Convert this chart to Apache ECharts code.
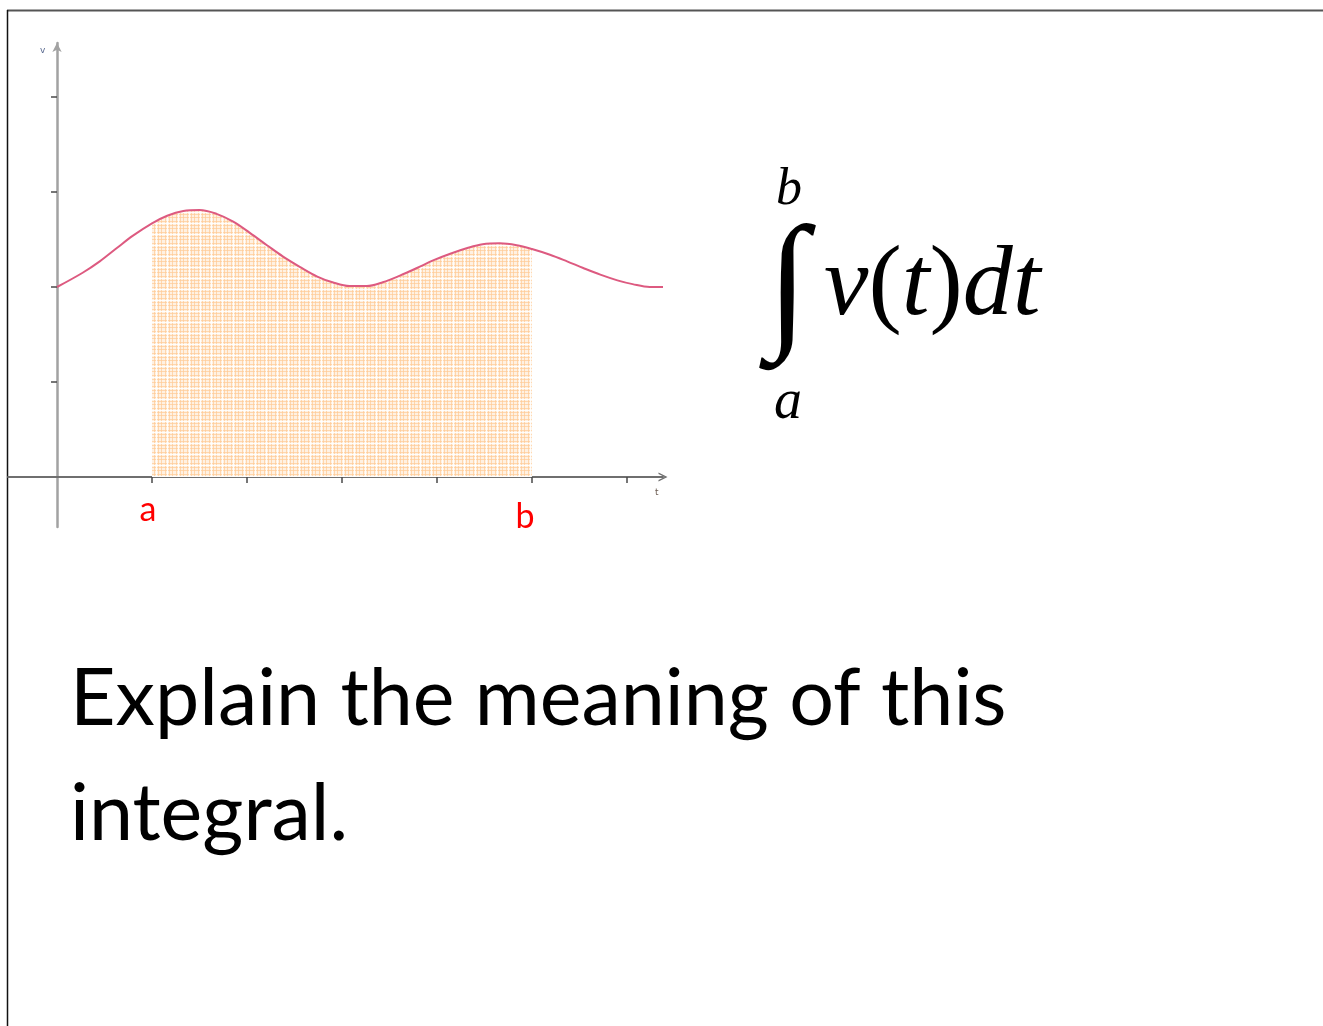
<!DOCTYPE html>
<html>
<head>
<meta charset="utf-8">
<title>Definite integral of velocity</title>
<script src="https://cdn.jsdelivr.net/npm/echarts@6/dist/echarts.min.js"></script>
<style>
  html, body { margin: 0; padding: 0; background: #ffffff; }
  #chart { width: 1323px; height: 1026px; }
</style>
</head>
<body>
<div id="chart"></div>
<script>
// velocity curve v(t), sampled along t
const curveT = [0, 0.27, 0.45, 0.63, 0.8, 1.0, 1.16, 1.33, 1.5, 1.68, 1.85, 2.03, 2.21, 2.38, 2.56, 2.74, 2.9, 3.08, 3.26, 3.43, 3.61, 3.79, 3.96, 4.14, 4.32, 4.48, 4.66, 4.84, 5.0, 5.19, 5.37, 5.54, 5.72, 5.9, 6.06, 6.24, 6.38];
const curveV = [2.0, 2.15, 2.27, 2.41, 2.54, 2.67, 2.75, 2.8, 2.81, 2.77, 2.69, 2.57, 2.44, 2.32, 2.21, 2.11, 2.05, 2.01, 2.01, 2.05, 2.12, 2.2, 2.28, 2.35, 2.41, 2.45, 2.46, 2.44, 2.4, 2.34, 2.27, 2.2, 2.13, 2.07, 2.03, 2.0, 2.0];

// integration limits and their labels
const limitValues = [1, 5];
const limitNames = ['a', 'b'];

// tick positions on both axes
const tTicks = [1, 2, 3, 4, 5, 6];
const vTicks = [1, 2, 3, 4];

const captionLines = ['Explain the meaning of this', 'integral.'];

const curve = curveT.map((t, i) => [t, curveV[i]]);
const shaded = curve.filter(p => p[0] >= limitValues[0] && p[0] <= limitValues[1]);

// light orange cross-hatch used under the curve
function makeHatch() {
  const c = document.createElement('canvas');
  c.width = 11; c.height = 11;
  const g = c.getContext('2d');
  g.fillStyle = '#fff1e2';
  g.fillRect(0, 0, 11, 11);
  g.fillStyle = 'rgba(255, 203, 150, 0.7)';
  [0, 4, 7].forEach(x => g.fillRect(x, 0, 1, 11));
  [1, 5, 8].forEach(y => g.fillRect(0, y, 11, 1));
  g.fillStyle = 'rgba(255, 255, 255, 0.9)';
  g.fillRect(2, 0, 1, 11);
  g.fillRect(0, 3, 11, 1);
  return c;
}

const chevron = 'path://M0,10 L5,0 L10,10 L8.4,10 L5,3.2 L1.6,10 Z';

function axisPair(ticks, min, max, lineColor, lineWidth, arrow, arrowSize) {
  const base = {
    type: 'value', min: min, max: max,
    splitLine: { show: false },
    axisLabel: { show: false }
  };
  return [
    Object.assign({}, base, {
      axisLine: { show: true, onZero: true, onZeroAxisIndex: 0,
        symbol: ['none', arrow], symbolSize: arrowSize,
        lineStyle: { color: lineColor, width: lineWidth } },
      axisTick: { show: true, customValues: ticks, length: 6, inside: false,
        lineStyle: { color: '#4a4a4a', width: 1.5 } }
    }),
    Object.assign({}, base, {
      axisLine: { show: false, onZero: true, onZeroAxisIndex: 0 },
      axisTick: { show: true, customValues: ticks, length: 6, inside: true,
        lineStyle: { color: '#4a4a4a', width: 1.5 } }
    })
  ];
}

const chart = echarts.init(document.getElementById('chart'), null, { renderer: 'canvas' });

chart.setOption({
  backgroundColor: '#ffffff',
  animation: false,
  grid: { left: 8, top: 43, width: 655, height: 484, containLabel: false },
  xAxis: axisPair(tTicks, -0.516, 6.38, '#6f6f6f', 2, chevron, [9, 9]),
  yAxis: axisPair(vTicks, -0.526, 4.568, '#a2a2a2', 2.5, 'arrow', [7, 9]),
  series: [
    {
      type: 'line', name: 'area', data: shaded, smooth: 0.35,
      xAxisIndex: 0, yAxisIndex: 0,
      symbol: 'none', lineStyle: { width: 0 },
      areaStyle: { color: { image: makeHatch(), repeat: 'repeat' }, opacity: 1 },
      z: 1, silent: true
    },
    {
      type: 'line', name: 'v(t)', data: curve, smooth: 0.35,
      xAxisIndex: 0, yAxisIndex: 0,
      symbol: 'none', lineStyle: { color: '#dd5a80', width: 2 },
      z: 3, silent: true
    }
  ]
});

// caption font size fitted to the slide's text width
const meas = document.createElement('canvas').getContext('2d');
meas.font = '100px Lato';
const captionSize = Math.round(100 * 935 / meas.measureText(captionLines[0]).width);

const pa = chart.convertToPixel({ xAxisIndex: 0, yAxisIndex: 0 }, [limitValues[0], 0]);
const pb = chart.convertToPixel({ xAxisIndex: 0, yAxisIndex: 0 }, [limitValues[1], 0]);
const serif = 'Liberation Serif';

chart.setOption({
  graphic: [
    // slide frame
    { type: 'line', shape: { x1: 7, y1: 10.5, x2: 1323, y2: 10.5 }, style: { stroke: '#555555', lineWidth: 2 }, silent: true },
    { type: 'line', shape: { x1: 7.5, y1: 10, x2: 7.5, y2: 1026 }, style: { stroke: '#111111', lineWidth: 1.5 }, silent: true },
    // axis names
    { type: 'text', x: 40, y: 46, style: { text: 'v', font: '9px "DejaVu Sans"', fill: '#5a6a90' }, silent: true },
    { type: 'text', x: 655, y: 488, style: { text: 't', font: '9px "DejaVu Sans"', fill: '#6a5a50' }, silent: true },
    // limit labels
    { type: 'text', x: pa[0] - 4, y: pa[1] + 33, style: { text: limitNames[0], font: '34px Lato', fill: '#ff0000', align: 'center', verticalAlign: 'middle' }, silent: true },
    { type: 'text', x: pb[0] - 7, y: pb[1] + 40, style: { text: limitNames[1], font: '34px Lato', fill: '#ff0000', align: 'center', verticalAlign: 'middle' }, silent: true },
    // integral expression
    { type: 'text', x: 776, y: 190, style: { text: 'b', font: 'italic 52px "' + serif + '"', fill: '#000', align: 'left', verticalAlign: 'middle' }, silent: true },
    { type: 'text', x: 767, y: 291, style: { text: '\u222B', font: '150px "' + serif + '"', fill: '#000', align: 'left', verticalAlign: 'middle' }, silent: true },
    { type: 'text', x: 824, y: 288, style: {
        text: '{i|v}{r|(}{i|t}{r|)}{i|dt}', align: 'left', verticalAlign: 'middle',
        rich: {
          i: { font: 'italic 100px "' + serif + '"', fill: '#000' },
          r: { font: '100px "' + serif + '"', fill: '#000' }
        } }, silent: true },
    { type: 'text', x: 774, y: 403, style: { text: 'a', font: 'italic 56px "' + serif + '"', fill: '#000', align: 'left', verticalAlign: 'middle' }, silent: true },
    // caption
    { type: 'text', x: 70, y: 700, style: { text: captionLines[0], font: captionSize + 'px Lato', fill: '#000', align: 'left', verticalAlign: 'middle' }, silent: true },
    { type: 'text', x: 70, y: 815, style: { text: captionLines[1], font: captionSize + 'px Lato', fill: '#000', align: 'left', verticalAlign: 'middle' }, silent: true }
  ]
});
</script>
</body>
</html>
